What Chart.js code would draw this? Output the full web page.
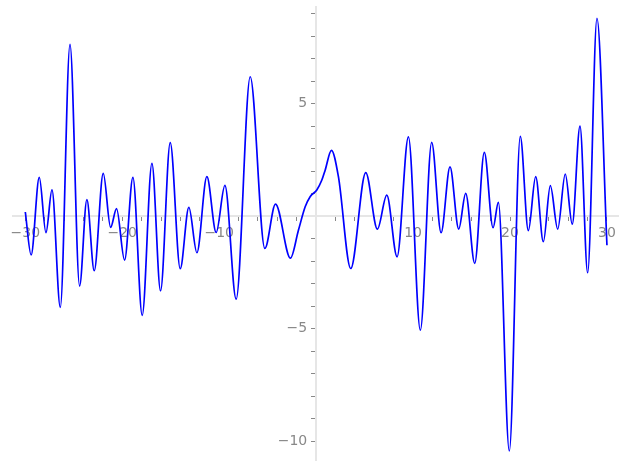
<!DOCTYPE html>
<html>
<head>
<meta charset="utf-8">
<script src="https://cdn.jsdelivr.net/npm/chart.js@4/dist/chart.umd.min.js"></script>
<style>
  html, body { margin: 0; padding: 0; background: #fff; }
  #wrap { width: 627px; height: 470px; }
</style>
</head>
<body>
<div id="wrap"><canvas id="plot"></canvas></div>
<script>
// curve points (peaks, troughs and a few in between)
const xs = [-30, -29.4, -28.56, -27.87, -27.25, -26.39, -25.39, -24.40, -23.65, -22.89,
  -21.96, -21.2, -20.59, -19.76, -18.9, -17.94, -16.94, -16.05, -15.05, -14.02,
  -13.13, -12.30, -11.27, -10.31, -9.41, -8.25, -6.80, -5.29, -4.19, -2.65,
  -1.82, -1.13, -0.62, 0.07, 0.59, 0.93, 1.58, 2.3, 3.57, 5.12,
  6.32, 7.29, 8.35, 9.52, 10.75, 11.92, 12.89, 13.81, 14.71, 15.43,
  16.36, 17.35, 18.25, 18.8, 19.93, 21.06, 21.89, 22.65, 23.44, 24.16,
  24.92, 25.70, 26.42, 27.22, 28.01, 28.97, 30];
const ys = [0.18, -1.73, 1.72, -0.74, 1.16, -4.06, 7.63, -3.11, 0.73, -2.43,
  1.90, -0.50, 0.33, -1.96, 1.72, -4.41, 2.34, -3.32, 3.26, -2.34,
  0.39, -1.63, 1.75, -0.73, 1.36, -3.69, 6.19, -1.44, 0.53, -1.87,
  -0.62, 0.41, 0.86, 1.16, 1.6, 2.04, 2.92, 1.75, -2.33, 1.93,
  -0.58, 0.93, -1.81, 3.52, -5.07, 3.27, -0.74, 2.19, -0.58, 1.01,
  -2.10, 2.83, -0.52, 0.61, -10.44, 3.54, -0.65, 1.75, -1.14, 1.35,
  -0.58, 1.87, -0.36, 4.0, -2.52, 8.79, -1.3];

const xTicks = [-30, -28, -26, -24, -22, -20, -18, -16, -14, -12, -10, -8, -6, -4, -2, 0,
  2, 4, 6, 8, 10, 12, 14, 16, 18, 20, 22, 24, 26, 28, 30];
const xLabels = [-30, -20, -10, 10, 20, 30];
const yTicks = [-10, -9, -8, -7, -6, -5, -4, -3, -2, -1, 0, 1, 2, 3, 4, 5, 6, 7, 8, 9];
const yLabels = [-10, -5, 5];

const fmt = v => String(v).replace('-', '\u2212');
const gray = '#888888';

// axes sit inside the plot area, so they take no room in the layout
function noRoom(s) {
  if (s.isHorizontal()) s.height = 0; else s.width = 0;
  s.paddingTop = 0; s.paddingBottom = 0; s.paddingLeft = 0; s.paddingRight = 0;
}

new Chart(document.getElementById('plot'), {
  type: 'line',
  data: {
    datasets: [{
      data: xs.map((x, i) => ({ x: x, y: ys[i] })),
      borderColor: '#0000ff',
      borderWidth: 1.7,
      pointRadius: 0,
      fill: false,
      cubicInterpolationMode: 'monotone'
    }]
  },
  options: {
    responsive: true,
    maintainAspectRatio: false,
    animation: false,
    layout: { padding: { left: 13, right: 9, top: 7, bottom: 10 } },
    plugins: { legend: { display: false }, tooltip: { enabled: false } },
    scales: {
      x: {
        type: 'linear',
        position: { y: 0 },
        min: -31.27,
        max: 31.14,
        afterFit: noRoom,
        afterBuildTicks: s => { s.ticks = xTicks.map(v => ({ value: v })); },
        grid: { drawOnChartArea: false, drawTicks: true, tickLength: 4, tickColor: gray, lineWidth: 1 },
        border: { display: true, color: '#e6e6e6', width: 2 },
        ticks: {
          autoSkip: false,
          maxRotation: 0,
          padding: 5,
          color: gray,
          font: { family: 'DejaVu Sans', size: 14 },
          callback: v => xLabels.includes(v) ? fmt(v) : ''
        }
      },
      y: {
        type: 'linear',
        position: { x: 0 },
        min: -10.84,
        max: 9.29,
        afterFit: noRoom,
        afterBuildTicks: s => { s.ticks = yTicks.map(v => ({ value: v })); },
        grid: { drawOnChartArea: false, drawTicks: true, tickLength: 4, tickColor: gray, lineWidth: 1 },
        border: { display: true, color: '#e6e6e6', width: 2 },
        ticks: {
          autoSkip: false,
          color: gray,
          font: { family: 'DejaVu Sans', size: 14 },
          // labels are right-aligned on the axis line here; trailing spaces keep them clear of the ticks
          callback: v => yLabels.includes(v) ? fmt(v) + '  ' : ''
        }
      }
    }
  }
});
</script>
</body>
</html>
